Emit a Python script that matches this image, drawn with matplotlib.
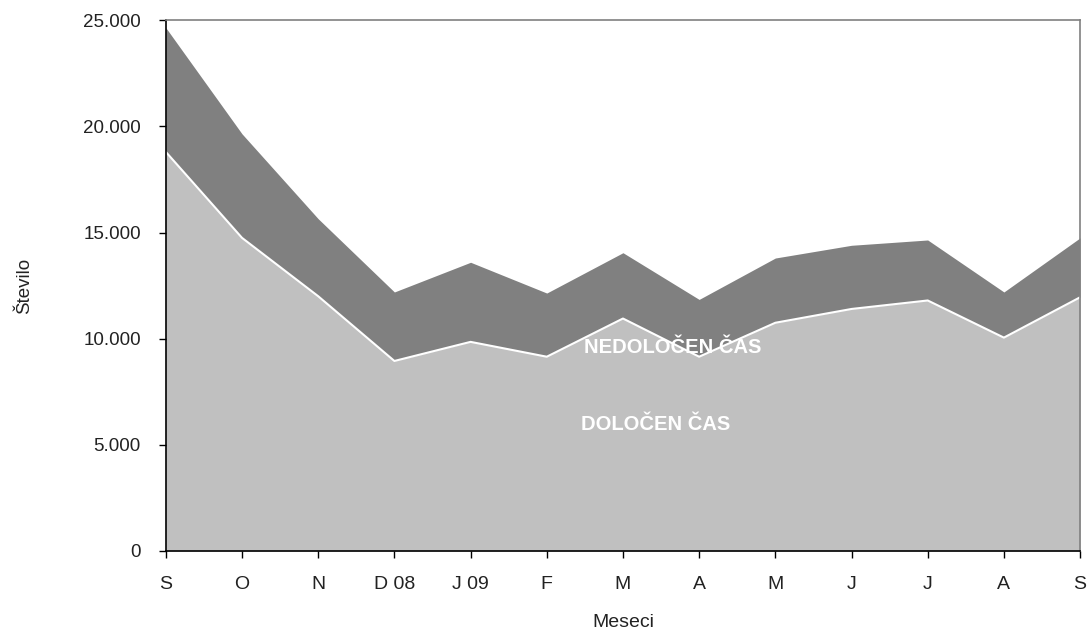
import numpy as np
import matplotlib
matplotlib.use("Agg")
import matplotlib.pyplot as plt
from matplotlib.ticker import FuncFormatter

plt.rcParams['font.family'] = ['Liberation Sans', 'DejaVu Sans']

# Meseci od septembra 2008 do septembra 2009
meseci = ['S', 'O', 'N', 'D 08', 'J 09', 'F', 'M', 'A', 'M', 'J', 'J', 'A', 'S']

# Zaposlitve za določen čas
dolocen = [18800, 14750, 12000, 8950, 9850, 9150, 10950, 9150, 10750, 11400, 11800, 10050, 11950]
# Zaposlitve za nedoločen čas
nedolocen = [5850, 4900, 3650, 3250, 3750, 3000, 3100, 2700, 3050, 3000, 2850, 2150, 2800]

x = np.arange(len(meseci))
dol = np.array(dolocen)
skupaj = dol + np.array(nedolocen)

txt = '#222222'

fig = plt.figure(figsize=(10.91, 6.34), dpi=100)
ax = fig.add_axes([0.152, 0.131, 0.838, 0.837])

ax.fill_between(x, 0, dol, color='#c0c0c0', linewidth=0)
ax.fill_between(x, dol, skupaj, color='#808080', linewidth=0)
ax.plot(x, dol, color='white', linewidth=1.5)

ax.set_xlim(0, len(meseci) - 1)
ax.set_ylim(0, 25000)
ax.set_yticks(np.arange(0, 25001, 5000))
ax.yaxis.set_major_formatter(FuncFormatter(lambda v, p: f'{int(v):,}'.replace(',', '.')))
ax.set_xticks(x)
ax.set_xticklabels(meseci, fontsize=14)

ax.tick_params(axis='both', direction='out', length=5, width=1, colors='black', labelcolor=txt)
ax.tick_params(axis='y', labelsize=13.5, pad=13)
ax.tick_params(axis='x', pad=13)

for s in ['left', 'bottom']:
    ax.spines[s].set_color('black')
    ax.spines[s].set_linewidth(1.2)
for s in ['top', 'right']:
    ax.spines[s].set_color('#808080')
    ax.spines[s].set_linewidth(1.2)

ax.set_ylabel('Število', fontsize=13.5, labelpad=36, color=txt)
ax.set_xlabel('Meseci', fontsize=14, labelpad=15, color=txt)

ax.text(6.655, 9600, 'NEDOLOČEN ČAS', color='white', fontsize=14.5, fontweight='bold',
        ha='center', va='center')
ax.text(6.43, 5950, 'DOLOČEN ČAS', color='white', fontsize=14.5, fontweight='bold',
        ha='center', va='center')

fig.savefig('out.png', dpi=100)
